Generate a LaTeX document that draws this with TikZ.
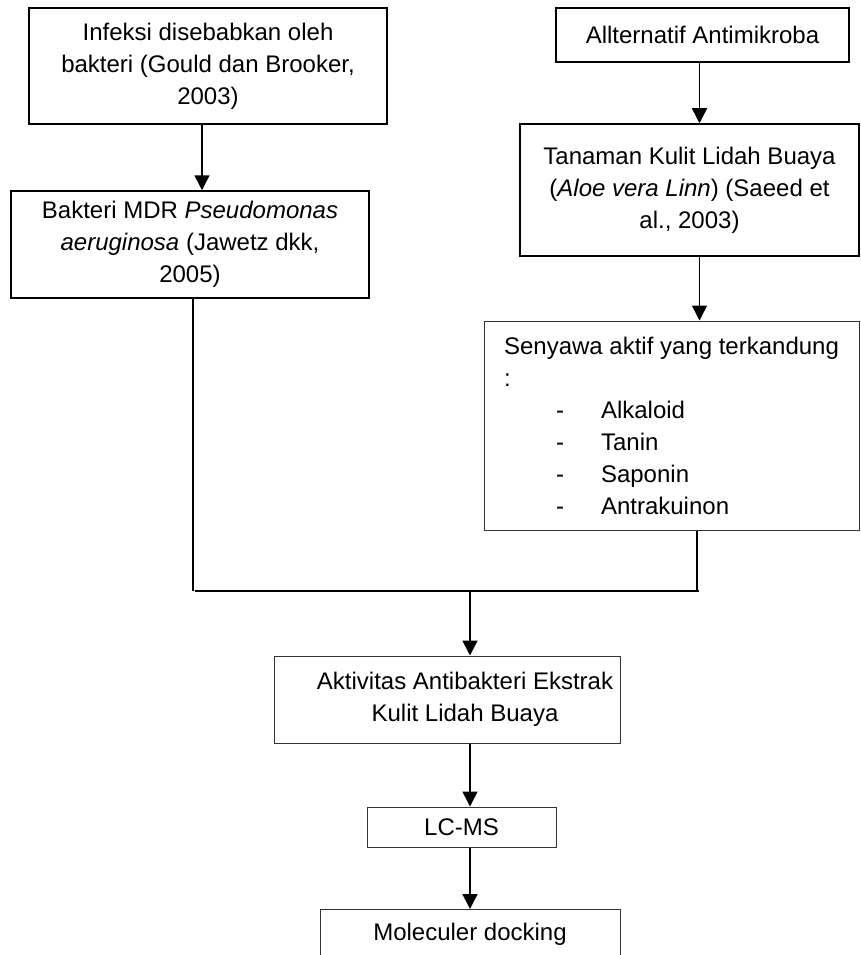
\documentclass[tikz,border=0pt]{standalone}
\usepackage{fontspec}
\setmainfont{Liberation Sans}
\usetikzlibrary{arrows.meta}

\begin{document}
\begin{tikzpicture}[x=1pt,y=-1pt,
  every node/.style={font=\fontsize{24}{32}\selectfont},
  box/.style={draw,line width=1.5pt,align=center,inner sep=0pt},
  thinbox/.style={draw=black!80,line width=1pt,align=center,inner sep=0pt},
  arr/.style={-{Triangle[width=15pt,length=15pt]},line width=1.5pt}]
\useasboundingbox (0,0) rectangle (860,955);
\clip (0,0) rectangle (860,955);

\node[box,minimum width=358pt,minimum height=116pt] (infeksi) at (208,66) {Infeksi disebabkan oleh\\bakteri (Gould dan Brooker,\\2003)};
\node[box,minimum width=358pt,minimum height=107pt] (bakteri) at (190,244.5) {Bakteri MDR \textit{Pseudomonas}\\\textit{aeruginosa} (Jawetz dkk,\\2005)};
\node[box,minimum width=293pt,minimum height=54pt] (alternatif) at (702.5,35) {Allternatif Antimikroba};
\node[box,minimum width=339pt,minimum height=132pt] (tanaman) at (689.5,190) {Tanaman Kulit Lidah Buaya\\(\textit{Aloe vera Linn}) (Saeed et\\al., 2003)};
\node[thinbox,align=left,minimum width=375pt,minimum height=209pt] (senyawa) at (671.5,425.5) {Senyawa aktif yang terkandung\\:\\
  \hspace*{52pt}\makebox[45pt][l]{-}Alkaloid\\
  \hspace*{52pt}\makebox[45pt][l]{-}Tanin\\
  \hspace*{52pt}\makebox[45pt][l]{-}Saponin\\
  \hspace*{52pt}\makebox[45pt][l]{-}Antrakuinon};
\node[thinbox,minimum width=346pt,minimum height=87pt] (aktivitas) at (447,699.5) {\hspace*{36pt}Aktivitas Antibakteri Ekstrak\\\hspace*{36pt}Kulit Lidah Buaya};
\node[thinbox,minimum width=189pt,minimum height=40pt] (lcms) at (461.5,827) {LC-MS};
\node[thinbox,anchor=north,minimum width=300pt,text height=17pt,text depth=70pt,inner ysep=14pt] (docking) at (470,909) {Moleculer docking};

\coordinate (joinL) at (193,591);
\coordinate (joinR) at (697,591);
\coordinate (joinM) at (470,591);

\draw[arr] ([xshift=-6pt]infeksi.south) -- ([xshift=-6pt]infeksi.south |- bakteri.north);
\draw[arr] ([xshift=-3pt]alternatif.south) -- ([xshift=-3pt]alternatif.south |- tanaman.north);
\draw[arr] ([xshift=10pt]tanaman.south) -- ([xshift=10pt]tanaman.south |- senyawa.north);
\draw[line width=1.5pt] (bakteri.south -| joinL) -- (joinL);
\draw[line width=1.5pt] (senyawa.south -| joinR) -- (joinR);
\draw[line width=2.4pt] ([xshift=2pt]joinL) -- ([xshift=2pt]joinR);
\draw[arr] (joinM) -- (joinM |- aktivitas.north);
\draw[arr] (joinM |- aktivitas.south) -- (joinM |- lcms.north);
\draw[arr] (joinM |- lcms.south) -- (docking.north);
\end{tikzpicture}
\end{document}
